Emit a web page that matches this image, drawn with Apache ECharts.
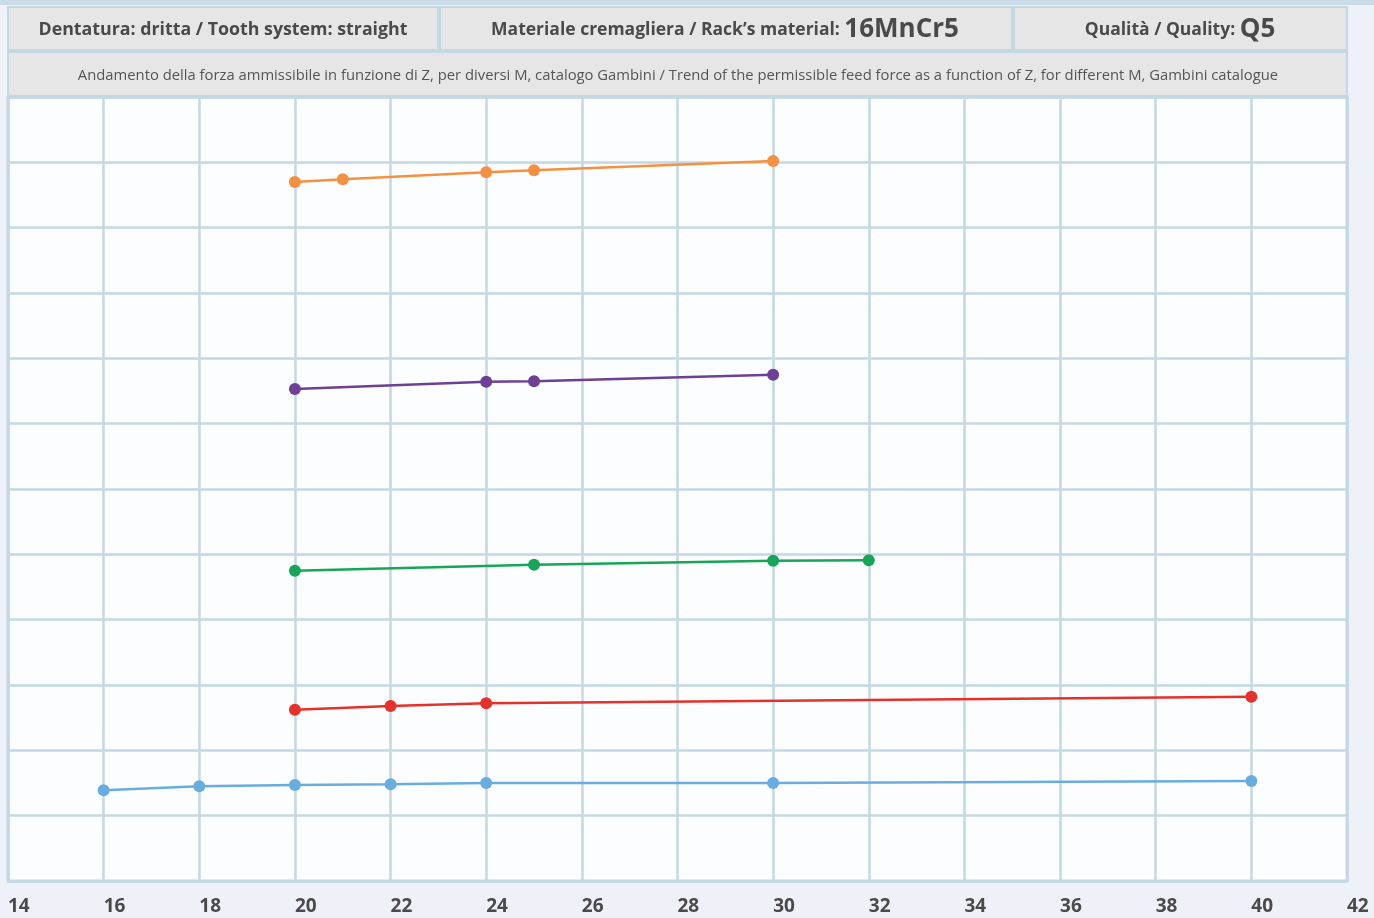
<!DOCTYPE html>
<html>
<head>
<meta charset="utf-8">
<script src="https://cdn.jsdelivr.net/npm/echarts@6/dist/echarts.min.js"></script>
<style>
  html, body { margin: 0; padding: 0; background: #eef2f8; }
  #chart { width: 1374px; height: 918px; }
</style>
</head>
<body>
<div id="chart"></div>
<script>
// Z values (x) and force per module (y, arbitrary grid units, axis unlabeled)
const blueZ = [16, 18, 20, 22, 24, 30, 40];
const blueF = [1.39, 1.45, 1.47, 1.48, 1.50, 1.50, 1.53];
const redZ = [20, 22, 24, 40];
const redF = [2.62, 2.68, 2.72, 2.82];
const greenZ = [20, 25, 30, 32];
const greenF = [4.75, 4.84, 4.90, 4.91];
const purpleZ = [20, 24, 25, 30];
const purpleF = [7.53, 7.64, 7.65, 7.75];
const orangeZ = [20, 21, 24, 25, 30];
const orangeF = [10.70, 10.74, 10.85, 10.88, 11.02];

const headerLeft = 'Dentatura: dritta / Tooth system: straight';
const headerMid = 'Materiale cremagliera / Rack\u2019s material: ';
const headerMidBig = '16MnCr5';
const headerRight = 'Qualità / Quality: ';
const headerRightBig = 'Q5';
const subtitle = 'Andamento della forza ammissibile in funzione di Z, per diversi M, catalogo Gambini / Trend of the permissible feed force as a function of Z, for different M, Gambini catalogue';

const FONT = '"Open Sans", "Noto Sans", sans-serif';
const gridColor = '#c4d8e4';
const cellFill = '#e6e6e6';

function pairs(xs, ys) {
  return xs.map((x, i) => [x, ys[i]]);
}

function lineSeries(name, xs, ys, color) {
  return {
    name: name,
    type: 'line',
    data: pairs(xs, ys),
    symbol: 'circle',
    symbolSize: 12,
    lineStyle: { color: color, width: 2.5 },
    itemStyle: { color: color },
    animation: false
  };
}

const chart = echarts.init(document.getElementById('chart'));

// header boxes
const cell = (x, y, w, h) => ({
  type: 'rect',
  shape: { x: x, y: y, width: w, height: h },
  style: { fill: cellFill, stroke: gridColor, lineWidth: 2 }
});

const richHead = {
  a: { fill: '#4a4a4a', fontSize: 17.5, fontWeight: 'bold', fontFamily: FONT },
  b: { fill: '#4a4a4a', fontSize: 26, fontWeight: 'bold', fontFamily: FONT }
};

const option = {
  backgroundColor: '#eef2f8',
  grid: {
    left: 8, right: 27, top: 97, bottom: 37,
    show: true,
    backgroundColor: '#fcfdff',
    borderColor: gridColor,
    borderWidth: 3
  },
  xAxis: {
    type: 'value',
    min: 14, max: 42, interval: 2,
    axisLine: { show: false },
    axisTick: { show: false },
    splitLine: { lineStyle: { color: gridColor, width: 2.5 } },
    axisLabel: {
      align: 'left',
      margin: 16,
      color: '#4a4a4a',
      fontSize: 19,
      fontWeight: 'bold',
      fontFamily: FONT,
      showMinLabel: true,
      showMaxLabel: true
    }
  },
  yAxis: {
    type: 'value',
    min: 0, max: 12, interval: 1,
    axisLine: { show: false },
    axisTick: { show: false },
    axisLabel: { show: false },
    splitLine: { lineStyle: { color: gridColor, width: 2.5 } }
  },
  graphic: [
    { type: 'rect', shape: { x: 0, y: 0, width: 1374, height: 5 }, style: { fill: '#c9dce8' } },
    cell(8, 7, 430, 43),
    cell(440, 7, 572, 43),
    cell(1014, 7, 333, 43),
    cell(8, 52, 1339, 44),
    {
      type: 'text', x: 223, y: 30,
      style: {
        text: headerLeft, align: 'center', verticalAlign: 'middle',
        fill: '#4a4a4a', font: 'bold 17.8px ' + FONT
      }
    },
    {
      type: 'text', x: 725, y: 30,
      style: {
        text: '{a|' + headerMid + '}{b|' + headerMidBig + '}',
        align: 'center', verticalAlign: 'middle',
        rich: richHead
      }
    },
    {
      type: 'text', x: 1180, y: 30,
      style: {
        text: '{a|' + headerRight + '}{b|' + headerRightBig + '}',
        align: 'center', verticalAlign: 'middle',
        rich: richHead
      }
    },
    {
      type: 'text', x: 678, y: 76,
      style: {
        text: subtitle, align: 'center', verticalAlign: 'middle',
        fill: '#555555', font: '14.8px ' + FONT
      }
    }
  ],
  series: [
    lineSeries('blue', blueZ, blueF, '#69ade0'),
    lineSeries('red', redZ, redF, '#e6302a'),
    lineSeries('green', greenZ, greenF, '#17a558'),
    lineSeries('purple', purpleZ, purpleF, '#6d3f95'),
    lineSeries('orange', orangeZ, orangeF, '#f39140')
  ]
};

chart.setOption(option);
</script>
</body>
</html>
